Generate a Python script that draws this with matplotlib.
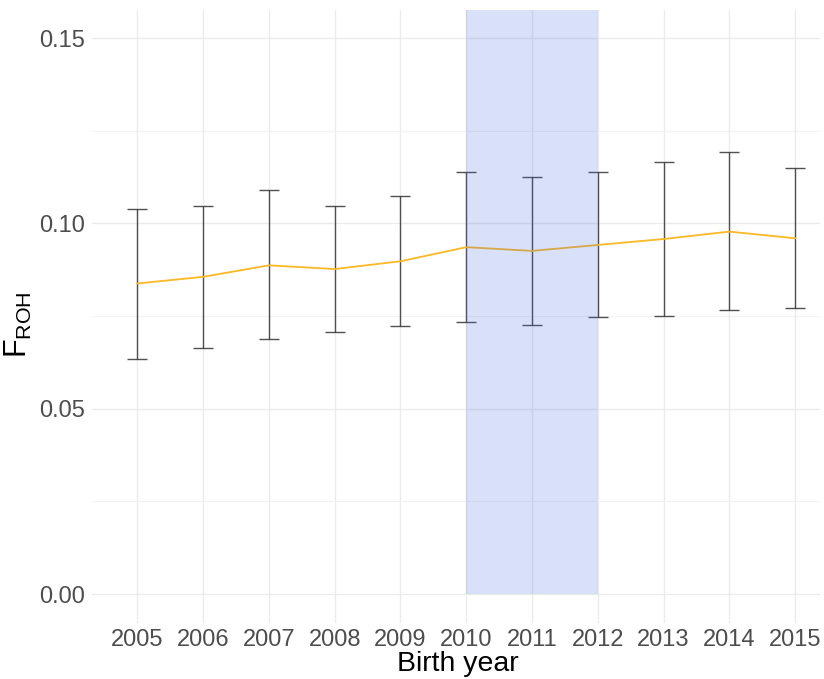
import matplotlib.pyplot as plt
from matplotlib.ticker import MultipleLocator

plt.rcParams['font.family'] = ['Liberation Sans', 'DejaVu Sans']
plt.rcParams['mathtext.fontset'] = 'custom'
plt.rcParams['mathtext.rm'] = 'Liberation Sans'

years = [2005, 2006, 2007, 2008, 2009, 2010, 2011, 2012, 2013, 2014, 2015]
froh_mean = [0.0838, 0.0856, 0.0887, 0.0877, 0.0898, 0.0936, 0.0926, 0.0942, 0.0958, 0.0978, 0.0960]
froh_upper = [0.1039, 0.1047, 0.1089, 0.1046, 0.1073, 0.1138, 0.1126, 0.1138, 0.1165, 0.1194, 0.1149]
froh_lower = [0.0634, 0.0663, 0.0687, 0.0708, 0.0724, 0.0734, 0.0726, 0.0747, 0.0750, 0.0766, 0.0771]
shade_start, shade_end = 2010, 2012

fig = plt.figure(figsize=(8.24, 6.79), dpi=100)
ax = fig.add_axes([0.1117, 0.0825, 0.8835, 0.9028])

err_lo = [m - l for m, l in zip(froh_mean, froh_lower)]
err_hi = [u - m for m, u in zip(froh_mean, froh_upper)]
ax.errorbar(years, froh_mean, yerr=[err_lo, err_hi], fmt='none',
            ecolor='#333333', elinewidth=1.0, capsize=7, capthick=1.0,
            alpha=0.85, zorder=3)
ax.plot(years, froh_mean, color='#FDB825', lw=1.3, zorder=4)

ymax = 0.1576
ax.fill_between([shade_start, shade_end], 0, ymax, color='#4169E1',
                alpha=0.2, lw=0, zorder=5)

ax.set_xlim(2004.31, 2015.38)
ax.set_ylim(-0.0078, ymax)
ax.set_xticks(years)
ax.yaxis.set_major_locator(MultipleLocator(0.05))
ax.yaxis.set_minor_locator(MultipleLocator(0.025))
ax.yaxis.set_major_formatter(lambda v, p: f'{v:.2f}')

ax.grid(which='major', color='#ebebeb', lw=1.0, zorder=0)
ax.grid(which='minor', axis='y', color='#f2f2f2', lw=0.8, zorder=0)
ax.set_axisbelow(True)
for s in ax.spines.values():
    s.set_visible(False)
ax.tick_params(which='both', length=0, labelsize=17, labelcolor='#4d4d4d')
ax.tick_params(axis='x', pad=4)
ax.tick_params(axis='y', pad=5)

# axis titles placed on the figure so they stay inside the canvas
fig.text(0.556, 1 - 664 / 679, 'Birth year', fontsize=20.5, color='black',
         ha='center', va='center')
fig.text(0.022, 1 - 325 / 679, r'$\mathregular{F_{ROH}}$', fontsize=22,
         color='black', rotation=90, ha='center', va='center')

fig.savefig('out.png', dpi=100)
